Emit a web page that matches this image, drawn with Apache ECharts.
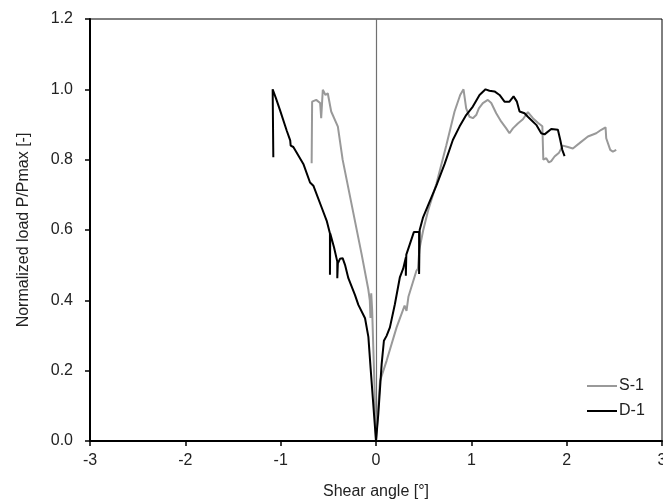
<!DOCTYPE html>
<html>
<head>
<meta charset="utf-8">
<script src="https://cdn.jsdelivr.net/npm/echarts@6/dist/echarts.min.js"></script>
<style>
html, body { margin: 0; padding: 0; background: #fff; }
#main { width: 663px; height: 504px; }
</style>
</head>
<body>
<div id="main"></div>
<script>
var myChart = echarts.init(document.getElementById('main'));

// S-1 (gray)
var s1X = [-0.675, -0.67, -0.627, -0.586, -0.575, -0.558, -0.53, -0.506, -0.47, -0.40, -0.35, -0.25, -0.15, -0.08, -0.065, -0.058, -0.05, -0.04, -0.03, -0.015, 0,
	0.02, 0.042, 0.111, 0.216, 0.30, 0.32, 0.34, 0.424, 0.44, 0.455, 0.494, 0.546, 0.633, 0.737, 0.824, 0.883, 0.918, 0.946, 0.981, 1.016, 1.051, 1.079, 1.121, 1.173, 1.209, 1.261, 1.314, 1.366, 1.40, 1.436, 1.488, 1.541, 1.593, 1.646, 1.698, 1.745, 1.755, 1.786, 1.813, 1.838, 1.873, 1.92, 1.96, 2.013, 2.065, 2.135, 2.223, 2.31, 2.363, 2.408, 2.415, 2.433, 2.457, 2.485, 2.52];
var s1Y = [0.79, 0.965, 0.97, 0.961, 0.918, 0.999, 0.984, 0.989, 0.937, 0.894, 0.80, 0.665, 0.53, 0.43, 0.40, 0.35, 0.42, 0.37, 0.28, 0.15, 0,
	0.08, 0.171, 0.228, 0.323, 0.385, 0.37, 0.41, 0.484, 0.49, 0.545, 0.598, 0.655, 0.731, 0.84, 0.937, 0.984, 1.0, 0.946, 0.922, 0.918, 0.927, 0.946, 0.961, 0.97, 0.961, 0.932, 0.908, 0.889, 0.875, 0.889, 0.903, 0.915, 0.935, 0.918, 0.905, 0.895, 0.80, 0.804, 0.792, 0.796, 0.809, 0.82, 0.84, 0.836, 0.832, 0.847, 0.866, 0.875, 0.885, 0.892, 0.861, 0.856, 0.828, 0.823, 0.828];

// D-1 (black)
var d1X = [-1.077, -1.084, -1.05, -1.007, -0.937, -0.9, -0.895, -0.867, -0.762, -0.692, -0.657, -0.57, -0.517, -0.483, -0.483, -0.48, -0.44, -0.406, -0.406, -0.40, -0.378, -0.35, -0.325, -0.29, -0.22, -0.185, -0.115, -0.08, -0.056, 0,
	0.024, 0.059, 0.083, 0.111, 0.146, 0.198, 0.25, 0.27, 0.285, 0.313, 0.313, 0.318, 0.355, 0.397, 0.452, 0.452, 0.458, 0.494, 0.546, 0.633, 0.72, 0.806, 0.876, 0.946, 1.016, 1.086, 1.149, 1.19, 1.243, 1.296, 1.348, 1.40, 1.443, 1.478, 1.506, 1.558, 1.593, 1.628, 1.681, 1.733, 1.768, 1.838, 1.908, 1.933, 1.954, 1.978];
var d1Y = [0.807, 1.0, 0.975, 0.941, 0.883, 0.855, 0.84, 0.836, 0.788, 0.735, 0.726, 0.664, 0.626, 0.59, 0.473, 0.59, 0.55, 0.51, 0.463, 0.505, 0.518, 0.52, 0.501, 0.463, 0.415, 0.387, 0.349, 0.296, 0.205, 0,
	0.076, 0.218, 0.285, 0.299, 0.323, 0.389, 0.465, 0.47, 0.49, 0.522, 0.47, 0.53, 0.56, 0.594, 0.594, 0.475, 0.60, 0.636, 0.67, 0.726, 0.788, 0.856, 0.894, 0.927, 0.951, 0.984, 1.0, 0.996, 0.994, 0.984, 0.965, 0.965, 0.98, 0.965, 0.937, 0.932, 0.922, 0.913, 0.899, 0.875, 0.872, 0.887, 0.885, 0.856, 0.828, 0.81];

var seriesNames = ['S-1', 'D-1'];
var seriesColors = ['#999999', '#000000'];

function pairs(xs, ys) {
	var res = [];
	for (var i = 0; i < xs.length; i++) {
		res.push([xs[i], ys[i]]);
	}
	return res;
}

var option = {
	backgroundColor: '#fff',
	textStyle: { fontFamily: 'Liberation Sans, Arial, sans-serif' },
	animation: false,
	grid: {
		left: 90,
		right: 1,
		top: 19,
		bottom: 63,
		outerBoundsMode: 'none', // keep the plot where it is, the "3" may be cut off
		containLabel: false,
		show: true,
		borderColor: '#000',
		borderWidth: 1
	},
	legend: {
		orient: 'vertical',
		left: 582,
		top: 373,
		icon: 'rect',
		itemWidth: 30,
		itemHeight: 2,
		itemGap: 9,
		data: seriesNames,
		textStyle: { fontSize: 16, color: '#222', padding: [0, 0, 0, -3] }
	},
	xAxis: {
		type: 'value',
		min: -3,
		max: 3,
		interval: 1,
		name: 'Shear angle [°]',
		nameLocation: 'middle',
		nameGap: 43,
		nameTextStyle: { fontSize: 16, color: '#222' },
		axisLine: { onZero: false, lineStyle: { color: '#000', width: 2 } },
		axisTick: { inside: false, length: 5, lineStyle: { color: '#000', width: 1.5 } },
		axisLabel: { fontSize: 16, color: '#222', margin: 12 },
		splitLine: { show: false }
	},
	yAxis: {
		type: 'value',
		min: 0,
		max: 1.2,
		interval: 0.2,
		name: 'Normalized load P/Pmax [-]',
		nameLocation: 'middle',
		nameGap: 58,
		nameTextStyle: { fontSize: 16, color: '#222' },
		axisLine: { onZero: false, lineStyle: { color: '#000', width: 2 } },
		axisTick: { inside: false, length: 5, lineStyle: { color: '#000', width: 1.5 } },
		axisLabel: {
			fontSize: 16,
			color: '#222',
			margin: 17,
			formatter: function(v) { return v.toFixed(1); }
		},
		splitLine: { show: false }
	},
	series: [{
		name: seriesNames[0],
		type: 'line',
		showSymbol: false,
		color: seriesColors[0],
		lineStyle: { width: 2, color: seriesColors[0] },
		data: pairs(s1X, s1Y),
		markLine: {
			silent: true,
			symbol: ['none', 'none'],
			label: { show: false },
			z: 1,
			lineStyle: { color: '#707070', width: 1.2, type: 'solid' },
			emphasis: { disabled: true },
			data: [{ xAxis: 0 }]
		}
	}, {
		name: seriesNames[1],
		type: 'line',
		showSymbol: false,
		color: seriesColors[1],
		lineStyle: { width: 2, color: seriesColors[1] },
		data: pairs(d1X, d1Y)
	}]
};

myChart.setOption(option);
</script>
</body>
</html>
